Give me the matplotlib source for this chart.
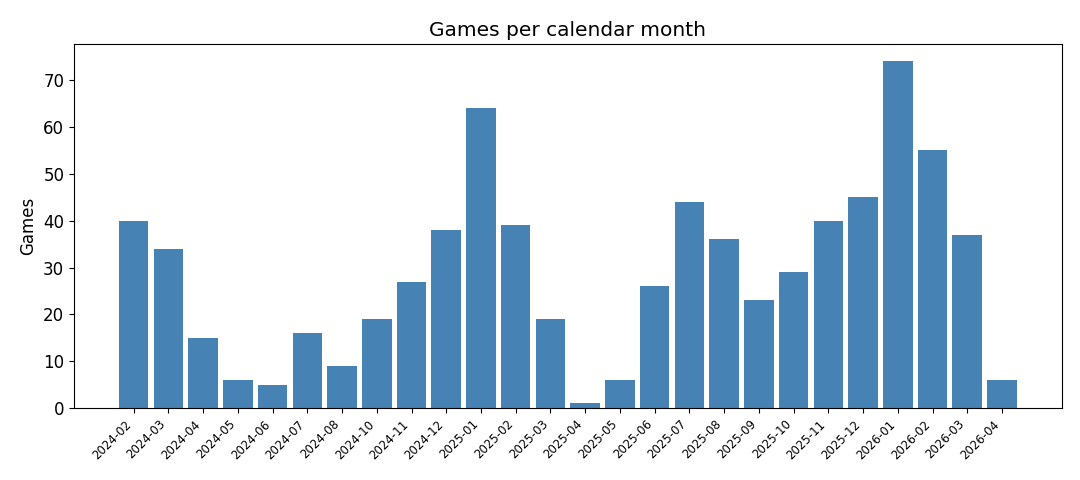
import matplotlib
matplotlib.use("Agg")
import matplotlib.pyplot as plt
import numpy as np

months = ["2024-02", "2024-03", "2024-04", "2024-05", "2024-06", "2024-07",
          "2024-08", "2024-10", "2024-11", "2024-12", "2025-01", "2025-02",
          "2025-03", "2025-04", "2025-05", "2025-06", "2025-07", "2025-08",
          "2025-09", "2025-10", "2025-11", "2025-12", "2026-01", "2026-02",
          "2026-03", "2026-04"]
games = [40, 34, 15, 6, 5, 16, 9, 19, 27, 38, 64, 39, 19, 1, 6, 26,
         44, 36, 23, 29, 40, 45, 74, 55, 37, 6]

fig, ax = plt.subplots(figsize=(10.8, 4.8), dpi=100)
fig.subplots_adjust(left=0.0685, right=0.983, top=0.908, bottom=0.15)

x = np.arange(len(months))
ax.bar(x, games, width=0.85, color="steelblue")
ax.set_xticks(x)
ax.set_xticklabels(months, rotation=45, ha="right", fontsize=8.5)
ax.tick_params(axis="y", labelsize=12)
ax.set_ylabel("Games", fontsize=12)
ax.set_title("Games per calendar month", fontsize=14.5)

fig.savefig("out.png", dpi=100)
